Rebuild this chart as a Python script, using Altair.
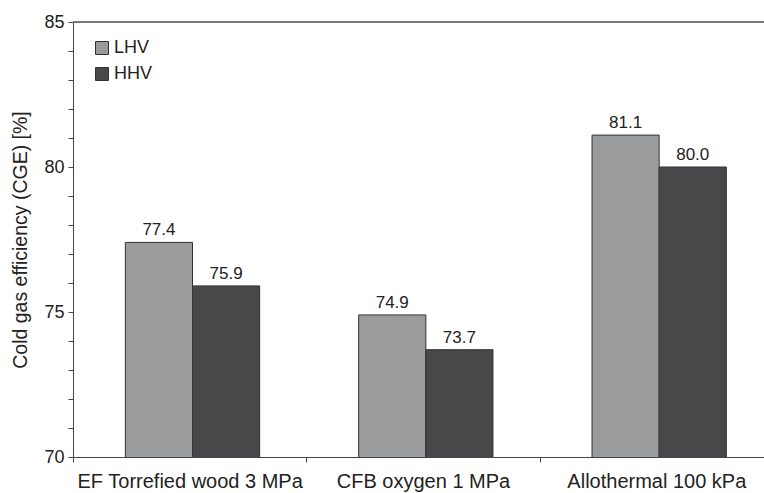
import altair as alt
import pandas as pd

categories = ["EF Torrefied wood 3 MPa", "CFB oxygen 1 MPa", "Allothermal 100 kPa"]
series = ["LHV", "HHV"]
lhv = [77.4, 74.9, 81.1]
hhv = [75.9, 73.7, 80.0]
colors = ["#9a9b9d", "#48484b"]

rows = []
for c, a, b in zip(categories, lhv, hhv):
    rows.append({"cat": c, "basis": "LHV", "cge": a})
    rows.append({"cat": c, "basis": "HHV", "cge": b})
df = pd.DataFrame(rows)

FONT = "Liberation Sans"

x = alt.X("cat:N", sort=categories, title=None,
          scale=alt.Scale(range=[0, 700], paddingInner=0, paddingOuter=0),
          axis=alt.Axis(labelAngle=0, labelFontSize=20, labelColor="#222", labelFont=FONT,
                        tickBand="extent", tickSize=5, tickColor="#444", domainColor="#444",
                        labelPadding=9, labelLimit=400))
xo = alt.XOffset("basis:N", sort=series,
                 scale=alt.Scale(range=[3, 236], paddingInner=0, paddingOuter=0.735))
y = alt.Y("cge:Q", title="Cold gas efficiency (CGE) [%]",
          scale=alt.Scale(domain=[70, 85], nice=False, zero=False),
          axis=alt.Axis(values=list(range(70, 86)),
                        labelExpr="datum.value % 5 === 0 ? datum.label : ''",
                        labelFontSize=18, labelColor="#222", labelFont=FONT,
                        labelPadding=4,
                        titleFontSize=19.5, titleFont=FONT, titleFontWeight="normal",
                        titleColor="#222", titlePadding=13,
                        tickSize=5, tickColor="#444", domainColor="#444", grid=False))

color = alt.Color("basis:N", sort=series,
                  scale=alt.Scale(domain=series, range=colors),
                  legend=alt.Legend(title=None, orient="none", legendX=20, legendY=17,
                                    symbolType="square", symbolSize=169,
                                    symbolStrokeColor="#333", symbolStrokeWidth=1,
                                    labelFontSize=18, labelFont=FONT, labelColor="#222",
                                    rowPadding=8, labelOffset=3))

bars = alt.Chart(df).mark_bar(stroke="#333", strokeWidth=1, clip=True).encode(
    x=x, xOffset=xo, y=y, color=color)

text = alt.Chart(df).mark_text(baseline="alphabetic", dy=-7, fontSize=17, font=FONT,
                               color="#222").encode(
    x=x, xOffset=xo, y=y, text=alt.Text("cge:Q", format=".1f"))

top = alt.Chart(df).mark_rule(color="#777", strokeWidth=1).encode(
    x=alt.value(0), x2=alt.value(700), y=alt.value(0))

chart = alt.layer(bars, text, top).properties(
    width=691, height=435,
    autosize=alt.AutoSizeParams(type="none"),
    padding={"left": 73, "top": 22, "right": 0, "bottom": 36},
).configure_view(stroke=None).configure(background="white")

chart.save("out.html", embed_options={"renderer": "svg", "actions": False})
